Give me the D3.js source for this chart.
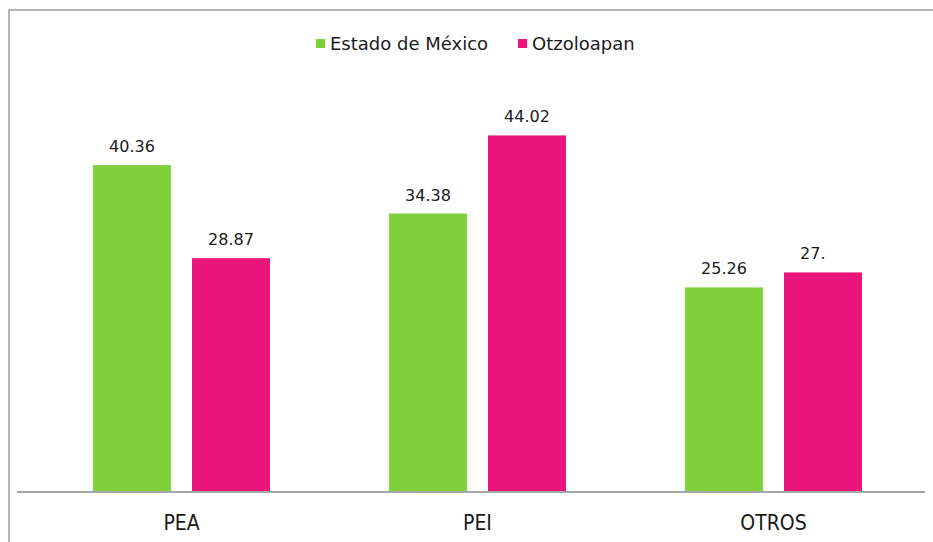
<!DOCTYPE html>
<html lang="es">
<head>
    <meta charset="UTF-8">
    <title>Población</title>
    <style>
        body{
            margin: 0;
            background-color: #fff;
        }
        svg{
            display: block;
            background-color: #fff;
        }
        .axis path, .axis line{
            stroke: #a6a6a6;
            stroke-width: 2px;
        }
        .axis text{
            fill: #1a1a1a;
            font-family: "DejaVu Sans Condensed", "DejaVu Sans", sans-serif;
            font-stretch: condensed;
            font-size: 21px;
        }
    </style>
</head>
<body>

<div id="chart"></div>

<script src="https://cdn.jsdelivr.net/npm/d3@7/dist/d3.min.js"></script>
<script>
    var categories = ['PEA', 'PEI', 'OTROS'];
    var series = ['Estado de México', 'Otzoloapan'];
    var edomex = [40.36, 34.38, 25.26];
    var otzoloapan = [28.87, 44.02, 27.11];
    var edomexLabels = ['40.36', '34.38', '25.26'];
    var otzoloapanLabels = ['28.87', '44.02', '27.'];
    var colors = ['#7fd13b', '#ea157a'];

    var width = 933, height = 542;
    var fmt = d3.format('.2f');

    var svg = d3.select('#chart')
        .append('svg')
        .attr('width', width)
        .attr('height', height);

    // frame of the chart area
    svg.append('path')
        .attr('d', 'M9,' + height + 'V10H' + width)
        .attr('fill', 'none')
        .attr('stroke', '#b5b5b5')
        .attr('stroke-width', 2);

    var xScale = d3.scaleBand()
        .domain(categories)
        .range([33.5, 921.5]);

    var x1Scale = d3.scaleBand()
        .domain(series)
        .range([0, xScale.bandwidth()])
        .paddingInner(0.212)
        .paddingOuter(0.601);

    var yScale = d3.scaleLinear()
        .domain([0, 50])
        .range([492, 87]);

    var rows = categories.map(function(c, i){
        return {
            cat: c,
            vals: [
                {s: series[0], v: edomex[i], label: edomexLabels[i], color: colors[0]},
                {s: series[1], v: otzoloapan[i], label: otzoloapanLabels[i], color: colors[1]}
            ]
        };
    });

    var groups = svg.selectAll('.group')
        .data(rows)
        .enter()
        .append('g')
        .attr('class', 'group')
        .attr('transform', function(d){
            return 'translate(' + xScale(d.cat) + ',0)';
        });

    groups.selectAll('rect')
        .data(function(d){ return d.vals; })
        .enter()
        .append('rect')
        .attr('x', function(d){ return x1Scale(d.s); })
        .attr('y', function(d){ return yScale(d.v); })
        .attr('width', x1Scale.bandwidth())
        .attr('height', function(d){ return yScale(0) - yScale(d.v); })
        .attr('fill', function(d){ return d.color; });

    //Value labels - placed where the full two-decimal label would start
    var measure = svg.append('text')
        .attr('font-family', 'DejaVu Sans, sans-serif')
        .attr('font-size', '16px');

    groups.selectAll('.val')
        .data(function(d){ return d.vals; })
        .enter()
        .append('text')
        .attr('class', 'val')
        .attr('x', function(d){
            var w = measure.text(fmt(d.v)).node().getComputedTextLength();
            return x1Scale(d.s) + x1Scale.bandwidth() / 2 - w / 2;
        })
        .attr('y', function(d){ return yScale(d.v) - 13; })
        .attr('font-family', 'DejaVu Sans, sans-serif')
        .attr('font-size', '16px')
        .attr('fill', '#1a1a1a')
        .text(function(d){ return d.label; });

    measure.remove();

    //Bottom axis
    var xAxis = d3.axisBottom(xScale).tickSize(0).tickPadding(23);
    var xAxisG = svg.append('g')
        .attr('class', 'axis')
        .attr('transform', 'translate(0,' + yScale(0) + ')')
        .call(xAxis);
    xAxisG.select('.domain').attr('d', 'M17,0H925');

    //Legend
    var legend = svg.append('g').attr('class', 'legend');
    var lx = 316;
    series.forEach(function(s, i){
        legend.append('rect')
            .attr('x', lx)
            .attr('y', 39)
            .attr('width', 9)
            .attr('height', 9)
            .attr('fill', colors[i]);
        var t = legend.append('text')
            .attr('x', lx + 14)
            .attr('y', 50)
            .attr('font-family', 'DejaVu Sans, sans-serif')
            .attr('font-size', '18px')
            .attr('fill', '#1a1a1a')
            .text(s);
        lx += 14 + t.node().getComputedTextLength() + 30;
    });
</script>

</body>
</html>
